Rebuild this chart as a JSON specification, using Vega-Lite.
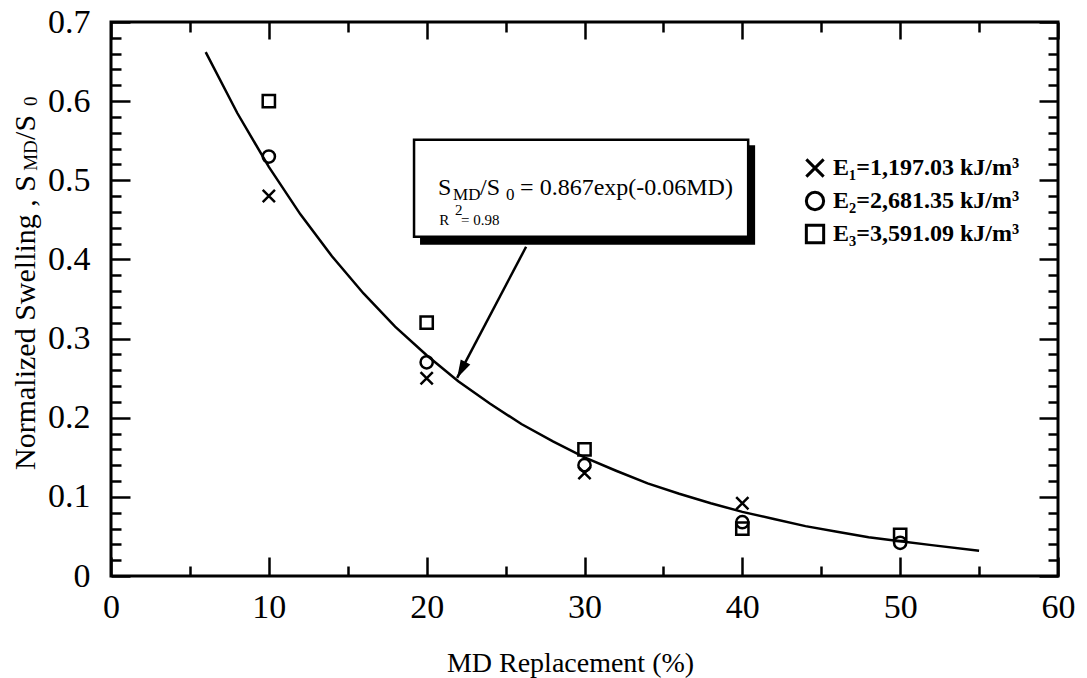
{
  "$schema": "https://vega.github.io/schema/vega-lite/v6.json",
  "width": 947,
  "height": 554,
  "autosize": {"type": "none"},
  "padding": {"left": 111, "top": 22, "right": 29, "bottom": 102},
  "background": "white",
  "datasets": {
    "points": [
      {"md": 10, "s": 0.48, "energy": "E₁=1,197.03 kJ/m³"},
      {"md": 10, "s": 0.53, "energy": "E₂=2,681.35 kJ/m³"},
      {"md": 10, "s": 0.60, "energy": "E₃=3,591.09 kJ/m³"},
      {"md": 20, "s": 0.25, "energy": "E₁=1,197.03 kJ/m³"},
      {"md": 20, "s": 0.27, "energy": "E₂=2,681.35 kJ/m³"},
      {"md": 20, "s": 0.32, "energy": "E₃=3,591.09 kJ/m³"},
      {"md": 30, "s": 0.13, "energy": "E₁=1,197.03 kJ/m³"},
      {"md": 30, "s": 0.14, "energy": "E₂=2,681.35 kJ/m³"},
      {"md": 30, "s": 0.16, "energy": "E₃=3,591.09 kJ/m³"},
      {"md": 40, "s": 0.092, "energy": "E₁=1,197.03 kJ/m³"},
      {"md": 40, "s": 0.068, "energy": "E₂=2,681.35 kJ/m³"},
      {"md": 40, "s": 0.060, "energy": "E₃=3,591.09 kJ/m³"},
      {"md": 50, "s": 0.042, "energy": "E₂=2,681.35 kJ/m³"},
      {"md": 50, "s": 0.052, "energy": "E₃=3,591.09 kJ/m³"}
    ],
    "curve": [
      {"md": 6, "s": 0.662}, {"md": 8, "s": 0.585}, {"md": 10, "s": 0.517},
      {"md": 12, "s": 0.457}, {"md": 14, "s": 0.404}, {"md": 16, "s": 0.357},
      {"md": 18, "s": 0.315}, {"md": 20, "s": 0.279}, {"md": 22, "s": 0.246},
      {"md": 24, "s": 0.218}, {"md": 26, "s": 0.192}, {"md": 28, "s": 0.170},
      {"md": 30, "s": 0.150}, {"md": 32, "s": 0.133}, {"md": 34, "s": 0.117},
      {"md": 36, "s": 0.104}, {"md": 38, "s": 0.092}, {"md": 40, "s": 0.081},
      {"md": 42, "s": 0.072}, {"md": 44, "s": 0.063}, {"md": 46, "s": 0.056},
      {"md": 48, "s": 0.049}, {"md": 50, "s": 0.044}, {"md": 52, "s": 0.039},
      {"md": 55, "s": 0.032}
    ],
    "shadow": [{"x1": 19.58, "x2": 40.81, "y1": 0.5442, "y2": 0.4185}],
    "box": [{"x1": 19.2, "x2": 40.37, "y1": 0.5512, "y2": 0.4286}],
    "arrow": [{"x1": 26.3, "y1": 0.416, "x2": 21.93, "y2": 0.2503}],
    "eqMain": [
      {"x": 20.72, "y": 0.4817, "t": "S"},
      {"x": 23.38, "y": 0.4817, "t": "/S"},
      {"x": 25.92, "y": 0.4817, "t": "= 0.867exp(-0.06MD)"}
    ],
    "eqSub": [
      {"x": 21.67, "y": 0.4753, "t": "MD"},
      {"x": 25.03, "y": 0.4753, "t": "0"}
    ],
    "r2": [
      {"x": 20.79, "y": 0.444, "t": "R"},
      {"x": 21.8, "y": 0.4565, "t": "2"},
      {"x": 22.18, "y": 0.444, "t": "= 0.98"}
    ],
    "yTitleMain": [
      {"x": -4.816, "y": 0.134, "t": "Normalized Swelling , S"},
      {"x": -4.816, "y": 0.551, "t": "/S"}
    ],
    "yTitleSub": [
      {"x": -4.69, "y": 0.512, "t": "MD"},
      {"x": -4.69, "y": 0.594, "t": "0"}
    ]
  },
  "resolve": {"axis": {"x": "independent", "y": "independent"}},
  "layer": [
    {
      "data": {"name": "shadow"},
      "mark": {"type": "rect", "color": "black"},
      "encoding": {
        "x": {"field": "x1", "type": "quantitative", "scale": {"domain": [0, 60]}, "axis": null},
        "x2": {"field": "x2"},
        "y": {"field": "y1", "type": "quantitative", "scale": {"domain": [0, 0.7]}, "axis": null},
        "y2": {"field": "y2"}
      }
    },
    {
      "data": {"name": "box"},
      "mark": {"type": "rect", "fill": "white", "stroke": "black", "strokeWidth": 2.5},
      "encoding": {
        "x": {"field": "x1", "type": "quantitative", "scale": {"domain": [0, 60]}, "axis": null},
        "x2": {"field": "x2"},
        "y": {"field": "y1", "type": "quantitative", "scale": {"domain": [0, 0.7]}, "axis": null},
        "y2": {"field": "y2"}
      }
    },
    {
      "data": {"name": "curve"},
      "mark": {"type": "line", "color": "black", "strokeWidth": 2.5},
      "encoding": {
        "x": {"field": "md", "type": "quantitative", "scale": {"domain": [0, 60]},
          "axis": {"orient": "top", "values": [0,5,10,15,20,25,30,35,40,45,50,55,60], "labels": false, "title": null, "domain": false,
            "tickSize": {"condition": {"test": "datum.value % 10 === 0", "value": -17}, "value": -10}}},
        "y": {"field": "s", "type": "quantitative", "scale": {"domain": [0, 0.7]},
          "axis": {"orient": "right", "values": [0,0.02,0.04,0.06,0.08,0.1,0.12,0.14,0.16,0.18,0.2,0.22,0.24,0.26,0.28,0.3,0.32,0.34,0.36,0.38,0.4,0.42,0.44,0.46,0.48,0.5,0.52,0.54,0.56,0.58,0.6,0.62,0.64,0.66,0.68,0.7], "labels": false, "title": null, "domain": false,
            "tickSize": {"condition": {"test": "abs(datum.value*10 - round(datum.value*10)) < 1e-6", "value": -19}, "value": -10}}}
      }
    },
    {
      "data": {"name": "points"},
      "mark": {"type": "point", "filled": false, "color": "black", "strokeWidth": 2.5, "size": 150, "opacity": 1},
      "encoding": {
        "x": {"field": "md", "type": "quantitative", "scale": {"domain": [0, 60]},
          "axis": {"orient": "bottom", "values": [0,5,10,15,20,25,30,35,40,45,50,55,60], "domain": false,
            "labelExpr": "datum.value % 10 === 0 ? datum.label : ''",
            "labelPadding": 33,
            "tickSize": {"condition": {"test": "datum.value % 10 === 0", "value": -19}, "value": -10},
            "title": "MD Replacement (%)", "titleX": 459, "titleY": 95, "titleBaseline": "alphabetic", "titleAlign": "center"}},
        "y": {"field": "s", "type": "quantitative", "scale": {"domain": [0, 0.7]},
          "axis": {"orient": "left", "values": [0,0.02,0.04,0.06,0.08,0.1,0.12,0.14,0.16,0.18,0.2,0.22,0.24,0.26,0.28,0.3,0.32,0.34,0.36,0.38,0.4,0.42,0.44,0.46,0.48,0.5,0.52,0.54,0.56,0.58,0.6,0.62,0.64,0.66,0.68,0.7], "domain": false, "title": null,
            "labelExpr": "abs(datum.value*10 - round(datum.value*10)) < 1e-6 ? (datum.value == 0 ? '0' : format(datum.value, '.1f')) : ''",
            "labelPadding": 40,
            "tickSize": {"condition": {"test": "abs(datum.value*10 - round(datum.value*10)) < 1e-6", "value": -19}, "value": -10}}},
        "shape": {"field": "energy", "type": "nominal",
          "scale": {"domain": ["E₁=1,197.03 kJ/m³", "E₂=2,681.35 kJ/m³", "E₃=3,591.09 kJ/m³"], "range": ["M-1,-1L1,1M-1,1L1,-1", "circle", "square"]},
          "legend": {"orient": "none", "legendX": 692, "legendY": 134, "title": null, "padding": 0, "rowPadding": 3,
            "labelFont": "Liberation Serif", "labelFontWeight": "bold", "labelFontSize": 24, "labelColor": "black", "labelLimit": 0,
            "symbolSize": 300, "symbolStrokeWidth": 3, "symbolStrokeColor": "black", "symbolFillColor": "transparent", "labelOffset": 6}}
      }
    },
    {
      "data": {"name": "arrow"},
      "mark": {"type": "rule", "color": "black", "strokeWidth": 2.5},
      "encoding": {
        "x": {"field": "x1", "type": "quantitative", "scale": {"domain": [0, 60]}, "axis": null},
        "y": {"field": "y1", "type": "quantitative", "scale": {"domain": [0, 0.7]}, "axis": null},
        "x2": {"field": "x2"},
        "y2": {"field": "y2"}
      }
    },
    {
      "data": {"name": "arrow"},
      "mark": {"type": "point", "shape": "M0,0L-0.3,1L0.3,1Z", "filled": true, "color": "black", "size": 1296, "angle": 207.8, "opacity": 1},
      "encoding": {
        "x": {"field": "x2", "type": "quantitative", "scale": {"domain": [0, 60]}, "axis": null},
        "y": {"field": "y2", "type": "quantitative", "scale": {"domain": [0, 0.7]}, "axis": null}
      }
    },
    {
      "data": {"name": "eqMain"},
      "mark": {"type": "text", "font": "Liberation Serif", "fontSize": 24, "align": "left", "baseline": "alphabetic", "color": "black"},
      "encoding": {
        "x": {"field": "x", "type": "quantitative", "scale": {"domain": [0, 60]}, "axis": null},
        "y": {"field": "y", "type": "quantitative", "scale": {"domain": [0, 0.7]}, "axis": null},
        "text": {"field": "t"}
      }
    },
    {
      "data": {"name": "eqSub"},
      "mark": {"type": "text", "font": "Liberation Serif", "fontSize": 17, "align": "left", "baseline": "alphabetic", "color": "black"},
      "encoding": {
        "x": {"field": "x", "type": "quantitative", "scale": {"domain": [0, 60]}, "axis": null},
        "y": {"field": "y", "type": "quantitative", "scale": {"domain": [0, 0.7]}, "axis": null},
        "text": {"field": "t"}
      }
    },
    {
      "data": {"name": "r2"},
      "mark": {"type": "text", "font": "Liberation Serif", "fontSize": 15, "align": "left", "baseline": "alphabetic", "color": "black"},
      "encoding": {
        "x": {"field": "x", "type": "quantitative", "scale": {"domain": [0, 60]}, "axis": null},
        "y": {"field": "y", "type": "quantitative", "scale": {"domain": [0, 0.7]}, "axis": null},
        "text": {"field": "t"}
      }
    },
    {
      "data": {"name": "yTitleMain"},
      "mark": {"type": "text", "font": "Liberation Serif", "fontSize": 30, "align": "left", "baseline": "alphabetic", "angle": 270, "color": "black"},
      "encoding": {
        "x": {"field": "x", "type": "quantitative", "scale": {"domain": [0, 60]}, "axis": null},
        "y": {"field": "y", "type": "quantitative", "scale": {"domain": [0, 0.7]}, "axis": null},
        "text": {"field": "t"}
      }
    },
    {
      "data": {"name": "yTitleSub"},
      "mark": {"type": "text", "font": "Liberation Serif", "fontSize": 19, "align": "left", "baseline": "alphabetic", "angle": 270, "color": "black"},
      "encoding": {
        "x": {"field": "x", "type": "quantitative", "scale": {"domain": [0, 60]}, "axis": null},
        "y": {"field": "y", "type": "quantitative", "scale": {"domain": [0, 0.7]}, "axis": null},
        "text": {"field": "t"}
      }
    }
  ],
  "config": {
    "view": {"stroke": "black", "strokeWidth": 3},
    "axis": {
      "grid": false,
      "labelFont": "Liberation Serif",
      "labelFontSize": 34,
      "labelColor": "black",
      "labelOverlap": false,
      "labelBound": false,
      "labelFlush": false,
      "tickColor": "black",
      "tickWidth": 2.5,
      "titleFont": "Liberation Serif",
      "titleFontSize": 28,
      "titleFontWeight": "normal",
      "titleColor": "black"
    }
  }
}
